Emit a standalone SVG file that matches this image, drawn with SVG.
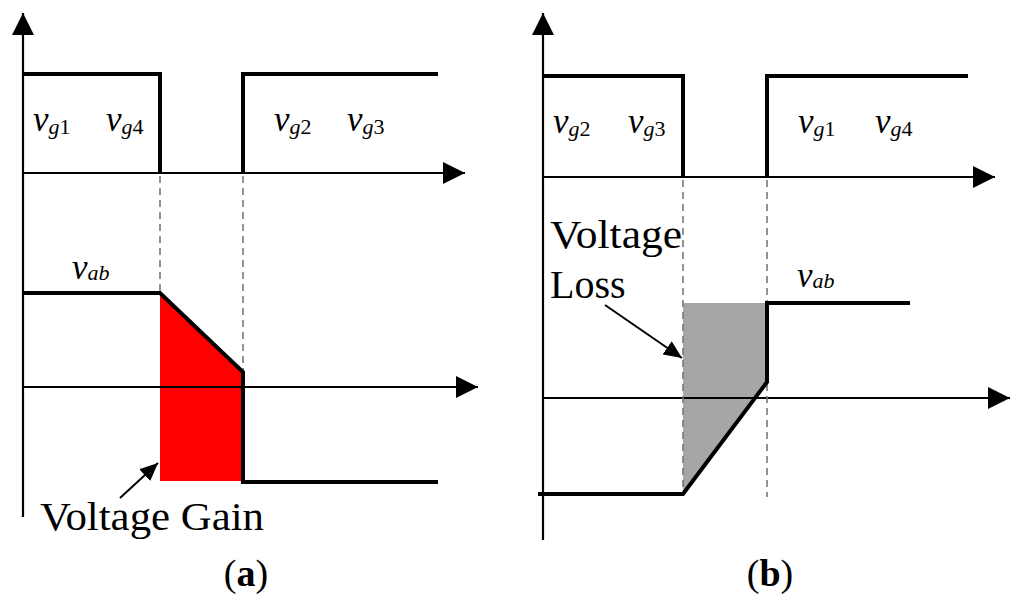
<svg xmlns="http://www.w3.org/2000/svg" width="1024" height="608" viewBox="0 0 1024 608">
<style>
.ax{stroke:#000;stroke-width:2.2;fill:none}
.sig{stroke:#000;stroke-width:4;fill:none;stroke-linejoin:miter}
.dash{stroke:#777;stroke-width:1.6;stroke-dasharray:7 5;fill:none}
.lbl{font-family:"Liberation Serif","Times New Roman",serif;fill:#000}
.v{font-style:italic;font-size:35px}
.sub{font-size:22px}
.big{font-family:"Liberation Serif","Times New Roman",serif;font-size:40px;fill:#000}
.cap{font-family:"Liberation Serif","Times New Roman",serif;font-size:38px;fill:#000}
</style>
<defs>
<marker id="ah" markerUnits="userSpaceOnUse" markerWidth="22" markerHeight="22" refX="22" refY="11" orient="auto"><path d="M0,0 L22,11 L0,22 z" fill="#000"/></marker>
<marker id="sh" markerUnits="userSpaceOnUse" markerWidth="18" markerHeight="16" refX="18" refY="8" orient="auto"><path d="M0,0 L18,8 L0,16 z" fill="#000"/></marker>
</defs>
<rect width="1024" height="608" fill="#fff"/>
<g id="panel-a">
<polygon points="160,293 243,372 243,481 160,481" fill="#ff0000"/>
<g id="axes-a">
<line class="ax" x1="23" y1="517" x2="23" y2="13" marker-end="url(#ah)"/>
<line class="ax" x1="23" y1="173" x2="465" y2="173" marker-end="url(#ah)"/>
<line class="ax" x1="23" y1="387" x2="478" y2="387" marker-end="url(#ah)"/>
</g>
<g id="dashes-a">
<line class="dash" x1="160" y1="176" x2="160" y2="293"/>
<line class="dash" x1="243" y1="176" x2="243" y2="372"/>
</g>
<polyline class="sig" points="23,74 160,74 160,173"/>
<polyline class="sig" points="243,173 243,74 438,74"/>
<polyline class="sig" points="23,293 160,293 243,372 243,482 438,482"/>
<text class="lbl" font-family="Liberation Serif, serif" x="33" y="131"><tspan class="v">v</tspan><tspan class="sub" font-style="italic" dy="3">g</tspan><tspan class="sub">1</tspan></text>
<text class="lbl" font-family="Liberation Serif, serif" x="106" y="131"><tspan class="v">v</tspan><tspan class="sub" font-style="italic" dy="3">g</tspan><tspan class="sub">4</tspan></text>
<text class="lbl" font-family="Liberation Serif, serif" x="274" y="131"><tspan class="v">v</tspan><tspan class="sub" font-style="italic" dy="3">g</tspan><tspan class="sub">2</tspan></text>
<text class="lbl" font-family="Liberation Serif, serif" x="347" y="131"><tspan class="v">v</tspan><tspan class="sub" font-style="italic" dy="3">g</tspan><tspan class="sub">3</tspan></text>
<text class="lbl" font-family="Liberation Serif, serif" x="72" y="279"><tspan class="v">v</tspan><tspan class="sub" font-style="italic" dy="1">ab</tspan></text>
<line x1="120" y1="498" x2="158" y2="463" stroke="#000" stroke-width="2" marker-end="url(#sh)"/>
<text class="big" font-family="Liberation Serif, serif" x="40" y="530" textLength="224" lengthAdjust="spacingAndGlyphs">Voltage Gain</text>
<text class="cap" font-family="Liberation Serif, serif" x="246" y="586" text-anchor="middle">(<tspan font-weight="bold">a</tspan>)</text>
</g>
<g id="panel-b">
<polygon points="683,303 767,303 767,382 683,494" fill="#a6a6a6"/>
<g id="axes-b">
<line class="ax" x1="543" y1="540" x2="543" y2="13" marker-end="url(#ah)"/>
<line class="ax" x1="543" y1="177" x2="995" y2="177" marker-end="url(#ah)"/>
<line class="ax" x1="543" y1="398" x2="1010" y2="398" marker-end="url(#ah)"/>
</g>
<g id="dashes-b">
<line class="dash" x1="683" y1="180" x2="683" y2="494"/>
<line class="dash" x1="767" y1="180" x2="767" y2="497"/>
</g>
<polyline class="sig" points="543,76 683,76 683,177"/>
<polyline class="sig" points="767,177 767,76 968,76"/>
<polyline class="sig" points="538,494 683,494 767,382 767,303 910,303"/>
<text class="lbl" font-family="Liberation Serif, serif" x="553" y="133"><tspan class="v">v</tspan><tspan class="sub" font-style="italic" dy="3">g</tspan><tspan class="sub">2</tspan></text>
<text class="lbl" font-family="Liberation Serif, serif" x="628" y="133"><tspan class="v">v</tspan><tspan class="sub" font-style="italic" dy="3">g</tspan><tspan class="sub">3</tspan></text>
<text class="lbl" font-family="Liberation Serif, serif" x="798" y="133"><tspan class="v">v</tspan><tspan class="sub" font-style="italic" dy="3">g</tspan><tspan class="sub">1</tspan></text>
<text class="lbl" font-family="Liberation Serif, serif" x="875" y="133"><tspan class="v">v</tspan><tspan class="sub" font-style="italic" dy="3">g</tspan><tspan class="sub">4</tspan></text>
<text class="lbl" font-family="Liberation Serif, serif" x="797" y="287"><tspan class="v">v</tspan><tspan class="sub" font-style="italic" dy="1">ab</tspan></text>
<line x1="605" y1="305" x2="682" y2="358" stroke="#000" stroke-width="2" marker-end="url(#sh)"/>
<text class="big" font-family="Liberation Serif, serif" x="550" y="248" textLength="132" lengthAdjust="spacingAndGlyphs">Voltage</text>
<text class="big" font-family="Liberation Serif, serif" x="550" y="298">Loss</text>
<text class="cap" font-family="Liberation Serif, serif" x="770" y="586" text-anchor="middle">(<tspan font-weight="bold">b</tspan>)</text>
</g>
</svg>
